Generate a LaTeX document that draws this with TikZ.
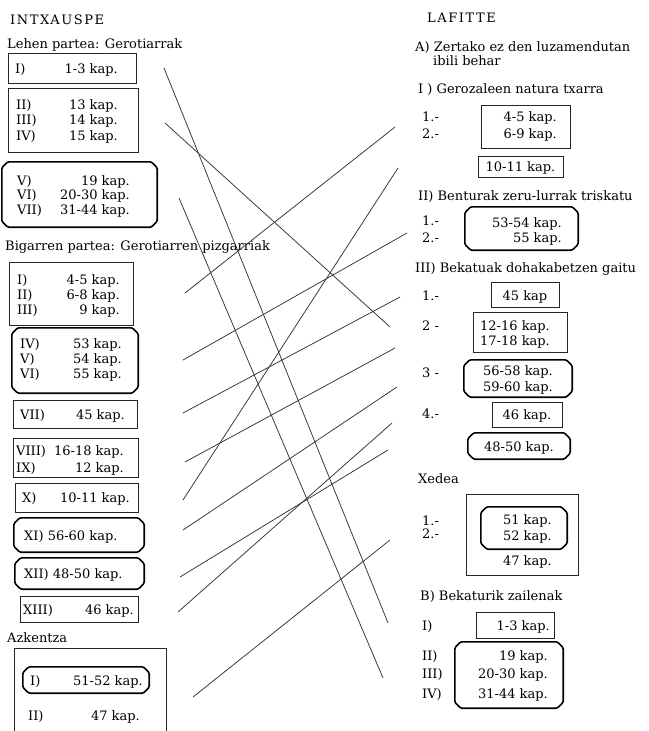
\documentclass[tikz,border=0pt]{standalone}
\usepackage{fontspec}
\setmainfont{DejaVu Serif}
\begin{document}
\begin{tikzpicture}[x=1pt,y=-1pt,
  txt/.style={font=\fontsize{13}{15}\selectfont, inner sep=0pt, text=black},
  ttl/.style={font=\fontsize{13}{15}\selectfont\addfontfeatures{LetterSpace=12}, inner sep=0pt, text=black},
  sqbox/.style={draw=black!85, line width=0.8pt, inner sep=0pt, rectangle},
  rdbox/.style={inner sep=0pt, rectangle},
  rdline/.style={draw=black, line width=1.6pt, line join=round, rounded corners=1.2pt},
  link/.style={draw=black!80, line width=0.75pt}]
\newcommand\mkbox[6]{\node[#2, minimum width={#5-#3}, minimum height={#6-#4}] (#1) at ({(#3+#5)/2},{(#4+#6)/2}) {};}
\newcommand\chamf[1]{\draw[rdline]
  ([xshift=6pt]#1.north west) -- ([xshift=-6pt]#1.north east) -- ([yshift=-6pt]#1.north east)
  -- ([yshift=6pt]#1.south east) -- ([xshift=-6pt]#1.south east) -- ([xshift=6pt]#1.south west)
  -- ([yshift=6pt]#1.south west) -- ([yshift=-6pt]#1.north west) -- cycle;}
\useasboundingbox (0,0) rectangle (648,731);
\fill[white] (0,0) rectangle (648,731);

% ---------- left column ----------
\node[ttl, anchor=base west] (tIntx) at (10,24) {INTXAUSPE};
\node[txt, anchor=base west] (tLehen) at (7,48) {Lehen partea: Gerotiarrak};

\mkbox{b1}{sqbox}{8}{53}{136}{83}
\node[txt, anchor=base west] (b1a) at (15,73) {I)};
\node[txt, anchor=base east] (b1b) at (118,73) {1-3 kap.};

\mkbox{b2}{sqbox}{8}{88}{138}{152}
\node[txt, anchor=base west] (b2a) at (16,109) {II)};
\node[txt, anchor=base east] (b2b) at (118,109) {13 kap.};
\node[txt, anchor=base west] (b2c) at (16,124) {III)};
\node[txt, anchor=base east] (b2d) at (118,124) {14 kap.};
\node[txt, anchor=base west] (b2e) at (16,140) {IV)};
\node[txt, anchor=base east] (b2f) at (118,140) {15 kap.};

\mkbox{b3}{rdbox}{2}{162}{157}{227} \chamf{b3}
\node[txt, anchor=base west] (b3a) at (17,185) {V)};
\node[txt, anchor=base east] (b3b) at (130,185) {19 kap.};
\node[txt, anchor=base west] (b3c) at (17,199) {VI)};
\node[txt, anchor=base east] (b3d) at (130,199) {20-30 kap.};
\node[txt, anchor=base west] (b3e) at (17,214) {VII)};
\node[txt, anchor=base east] (b3f) at (130,214) {31-44 kap.};

\node[txt, anchor=base west] (tBig) at (5,250) {Bigarren partea: Gerotiarren pizgarriak};

\mkbox{b4}{sqbox}{9}{262}{133}{325}
\node[txt, anchor=base west] (b4a) at (17,284) {I)};
\node[txt, anchor=base east] (b4b) at (120,284) {4-5 kap.};
\node[txt, anchor=base west] (b4c) at (17,299) {II)};
\node[txt, anchor=base east] (b4d) at (120,299) {6-8 kap.};
\node[txt, anchor=base west] (b4e) at (17,314) {III)};
\node[txt, anchor=base east] (b4f) at (120,314) {9 kap.};

\mkbox{b5}{rdbox}{12}{328}{138}{393} \chamf{b5}
\node[txt, anchor=base west] (b5a) at (20,348) {IV)};
\node[txt, anchor=base east] (b5b) at (122,348) {53 kap.};
\node[txt, anchor=base west] (b5c) at (20,363) {V)};
\node[txt, anchor=base east] (b5d) at (122,363) {54 kap.};
\node[txt, anchor=base west] (b5e) at (20,378) {VI)};
\node[txt, anchor=base east] (b5f) at (122,378) {55 kap.};

\mkbox{b6}{sqbox}{13}{400}{137}{428}
\node[txt, anchor=base west] (b6a) at (20,419) {VII)};
\node[txt, anchor=base east] (b6b) at (125,419) {45 kap.};

\mkbox{b7}{sqbox}{13}{438}{138}{477}
\node[txt, anchor=base west] (b7a) at (16,455) {VIII)};
\node[txt, anchor=base east] (b7b) at (124,455) {16-18 kap.};
\node[txt, anchor=base west] (b7c) at (16,472) {IX)};
\node[txt, anchor=base east] (b7d) at (124,472) {12 kap.};

\mkbox{b8}{sqbox}{15}{483}{138}{512}
\node[txt, anchor=base west] (b8a) at (22,502) {X)};
\node[txt, anchor=base east] (b8b) at (130,502) {10-11 kap.};

\mkbox{b9}{rdbox}{14}{518}{144}{552} \chamf{b9}
\node[txt, anchor=base west] (b9a) at (24,540) {XI) 56-60 kap.};

\mkbox{b10}{rdbox}{15}{558}{144}{589} \chamf{b10}
\node[txt, anchor=base west] (b10a) at (24,578) {XII) 48-50 kap.};

\mkbox{b11}{sqbox}{20}{596}{138}{622}
\node[txt, anchor=base west] (b11a) at (23,614) {XIII)};
\node[txt, anchor=base east] (b11b) at (134,614) {46 kap.};

\node[txt, anchor=base west] (tAzk) at (7,642) {Azkentza};
\mkbox{b12}{sqbox}{14}{648}{166}{760}
\mkbox{b13}{rdbox}{23}{667}{149}{693} \chamf{b13}
\node[txt, anchor=base west] (b13a) at (30,685) {I)};
\node[txt, anchor=base east] (b13b) at (143,685) {51-52 kap.};
\node[txt, anchor=base west] (b12a) at (28,720) {II)};
\node[txt, anchor=base east] (b12b) at (140,720) {47 kap.};

% ---------- right column ----------
\node[ttl, anchor=base west] (tLaf) at (427,22) {LAFITTE};
\node[txt, anchor=base west] (tA) at (415,51) {A) Zertako ez den luzamendutan};
\node[txt, anchor=base west] (tA2) at (433,65) {ibili behar};
\node[txt, anchor=base west] (tRI) at (418,93) {I ) Gerozaleen natura txarra};
\node[txt, anchor=base west] (n11) at (422,121) {1.-};
\node[txt, anchor=base west] (n12) at (422,138) {2.-};
\mkbox{r1}{sqbox}{481}{105}{570}{148}
\node[txt, anchor=base east] (r1a) at (557,121) {4-5 kap.};
\node[txt, anchor=base east] (r1b) at (557,138) {6-9 kap.};
\mkbox{r2}{sqbox}{478}{156}{563}{177}
\node[txt, anchor=base] (r2a) at (520.5,171) {10-11 kap.};

\node[txt, anchor=base west] (tRII) at (418,200) {II) Benturak zeru-lurrak triskatu};
\node[txt, anchor=base west] (n21) at (422,225) {1.-};
\node[txt, anchor=base west] (n22) at (422,242) {2.-};
\mkbox{r3}{rdbox}{465}{207}{578}{250} \chamf{r3}
\node[txt, anchor=base east] (r3a) at (562,227) {53-54 kap.};
\node[txt, anchor=base east] (r3b) at (562,242) {55 kap.};

\node[txt, anchor=base west] (tRIII) at (415,272) {III) Bekatuak dohakabetzen gaitu};
\node[txt, anchor=base west] (n31) at (422,300) {1.-};
\mkbox{r4}{sqbox}{491}{282}{559}{307}
\node[txt, anchor=base] (r4a) at (525,300) {45 kap};
\node[txt, anchor=base west] (n32) at (422,330) {2 -};
\mkbox{r5}{sqbox}{473}{312}{567}{352}
\node[txt, anchor=base west] (r5a) at (480,330) {12-16 kap.};
\node[txt, anchor=base west] (r5b) at (480,345) {17-18 kap.};
\node[txt, anchor=base west] (n33) at (422,377) {3 -};
\mkbox{r6}{rdbox}{464}{360}{572}{397} \chamf{r6}
\node[txt, anchor=base west] (r6a) at (483,375) {56-58 kap.};
\node[txt, anchor=base west] (r6b) at (483,391) {59-60 kap.};
\node[txt, anchor=base west] (n34) at (422,418) {4.-};
\mkbox{r7}{sqbox}{492}{402}{562}{427}
\node[txt, anchor=base] (r7a) at (527,419) {46 kap.};
\mkbox{r8}{rdbox}{468}{433}{570}{459} \chamf{r8}
\node[txt, anchor=base] (r8a) at (519,451) {48-50 kap.};

\node[txt, anchor=base west] (tXed) at (418,483) {Xedea};
\mkbox{r9}{sqbox}{466}{494}{578}{575}
\node[txt, anchor=base west] (n41) at (422,525) {1.-};
\node[txt, anchor=base west] (n42) at (422,538) {2.-};
\mkbox{r10}{rdbox}{481}{507}{567}{549} \chamf{r10}
\node[txt, anchor=base east] (r10a) at (552,524) {51 kap.};
\node[txt, anchor=base east] (r10b) at (552,540) {52 kap.};
\node[txt, anchor=base east] (r9a) at (552,565) {47 kap.};

\node[txt, anchor=base west] (tB) at (420,600) {B) Bekaturik zailenak};
\node[txt, anchor=base west] (n51) at (422,630) {I)};
\mkbox{r11}{sqbox}{476}{612}{554}{638}
\node[txt, anchor=base east] (r11a) at (550,630) {1-3 kap.};
\mkbox{r12}{rdbox}{455}{642}{563}{708} \chamf{r12}
\node[txt, anchor=base west] (n52) at (422,660) {II)};
\node[txt, anchor=base east] (r12a) at (548,660) {19 kap.};
\node[txt, anchor=base west] (n53) at (422,678) {III)};
\node[txt, anchor=base east] (r12b) at (548,678) {20-30 kap.};
\node[txt, anchor=base west] (n54) at (422,698) {IV)};
\node[txt, anchor=base east] (r12c) at (548,698) {31-44 kap.};

% ---------- connector end points ----------
\coordinate (p1) at (164,68);   \coordinate (q1) at (388,623);
\coordinate (p2) at (165,123);  \coordinate (q2) at (390,327);
\coordinate (p3) at (179,198);  \coordinate (q3) at (383,678);
\coordinate (p4) at (185,293);  \coordinate (q4) at (395,127);
\coordinate (p5) at (183,360);  \coordinate (q5) at (407,233);
\coordinate (p6) at (183,413);  \coordinate (q6) at (400,297);
\coordinate (p7) at (185,462);  \coordinate (q7) at (395,348);
\coordinate (p8) at (183,500);  \coordinate (q8) at (398,168);
\coordinate (p9) at (183,530);  \coordinate (q9) at (397,387);
\coordinate (p10) at (180,577); \coordinate (q10) at (388,450);
\coordinate (p11) at (178,612); \coordinate (q11) at (392,423);
\coordinate (p12) at (193,697); \coordinate (q12) at (390,540);

\foreach \i in {1,...,12} \draw[link] (p\i) -- (q\i);
\end{tikzpicture}
\end{document}
